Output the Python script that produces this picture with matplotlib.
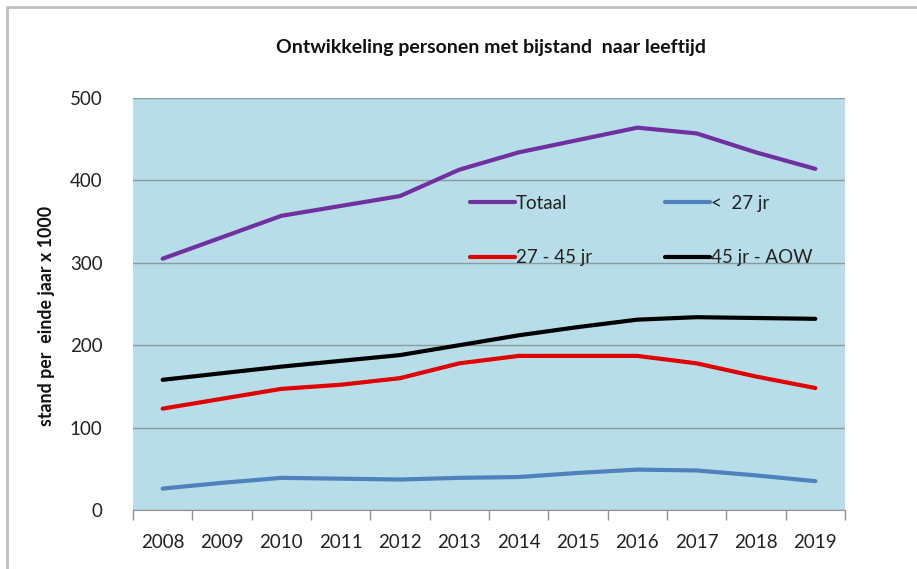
import matplotlib
matplotlib.use("Agg")
import matplotlib.pyplot as plt
from matplotlib.lines import Line2D

plt.rcParams['font.family'] = ['Lato', 'DejaVu Sans']

# data (x 1000)
years = ['2008', '2009', '2010', '2011', '2012', '2013',
         '2014', '2015', '2016', '2017', '2018', '2019']
totaal = [305, 331, 357, 369, 381, 413, 434, 449, 464, 457, 434, 414]
onder27 = [26, 33, 39, 38, 37, 39, 40, 45, 49, 48, 42, 35]
r27_45 = [123, 135, 147, 152, 160, 178, 187, 187, 187, 178, 162, 148]
r45_aow = [158, 166, 174, 181, 188, 200, 212, 222, 231, 234, 233, 232]

series = [
    ('Totaal', totaal, '#7030A0'),
    ('<  27 jr', onder27, '#4F81BD'),
    ('27 - 45 jr', r27_45, '#E00000'),
    ('45 jr - AOW', r45_aow, '#000000'),
]

fig = plt.figure(figsize=(9.17, 5.69), dpi=100)
ax = fig.add_axes([133 / 917, 1 - 510 / 569, 712 / 917, 412 / 569])
ax.set_facecolor('#B7DDE8')

x = list(range(len(years)))
handles = []
for label, vals, col in series:
    h, = ax.plot(x, vals, color=col, lw=3, solid_capstyle='round',
                 solid_joinstyle='round', label=label)
    handles.append(h)

ax.set_xlim(-0.5, len(years) - 0.5)
ax.set_ylim(0, 500)
ax.set_yticks([0, 100, 200, 300, 400, 500])
ax.set_xticks(x)
ax.set_xticklabels(years)
ax.set_xticks([i - 0.5 for i in range(len(years) + 1)], minor=True)
ax.tick_params(axis='x', which='major', length=0, pad=17,
               labelsize=13.5, labelcolor='#222222')
ax.tick_params(axis='x', which='minor', length=7, color='#909090', width=1)
ax.tick_params(axis='y', length=0, pad=22, labelsize=13.5, labelcolor='#222222')

ax.grid(axis='y', color='#8a9a9e', lw=1)
ax.set_axisbelow(True)
for s in ['left', 'right', 'top']:
    ax.spines[s].set_visible(False)
ax.spines['bottom'].set_color('#909090')

# legend in two columns inside the plot (column-major order)
ax.legend(handles=[handles[0], handles[2], handles[1], handles[3]],
          ncol=2, frameon=False, fontsize=13.5, handlelength=2.4,
          handletextpad=0.05, columnspacing=3.9, labelspacing=2.0,
          loc='upper left', bbox_to_anchor=(0.449, 0.806),
          labelcolor='#222222')

fig.text(0.535, 0.916, 'Ontwikkeling personen met bijstand  naar leeftijd',
         ha='center', va='center', fontsize=14, fontweight='bold',
         color='#111111')
fig.text(47 / 917, 1 - 316 / 569, 'stand per  einde jaar x 1000',
         rotation=90, ha='center', va='center', fontsize=12.8,
         fontweight='bold', color='#111111')

# outer frame of the picture (left and top edge only)
y0 = 1 - 7 / 569
x0 = 7 / 917
fig.add_artist(Line2D([x0, x0, 1], [0, y0, y0], color='#BFBFBF', lw=2,
                      transform=fig.transFigure))

fig.savefig('out.png', dpi=100)
